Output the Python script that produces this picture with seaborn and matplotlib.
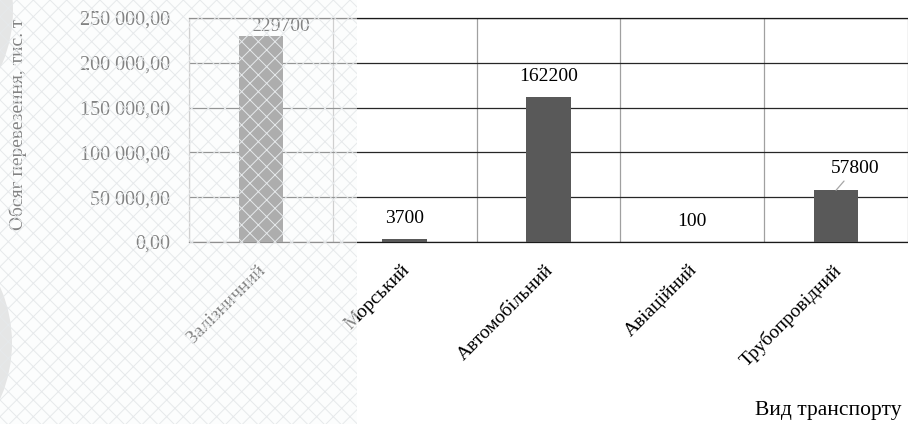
import matplotlib
matplotlib.use("Agg")
import matplotlib.pyplot as plt
import matplotlib.patches as mpatches
import matplotlib.transforms as mtransforms
import seaborn as sns
import pandas as pd

# Freight volume by mode of transport, thousand tonnes
transport_types = ["Залізничний", "Морський", "Автомобільний", "Авіаційний", "Трубопровідний"]
volumes = [229700, 3700, 162200, 100, 57800]
y_ticks = [0, 50000, 100000, 150000, 200000, 250000]
y_tick_labels = ["0,00", "50 000,00", "100 000,00", "150 000,00", "200 000,00", "250 000,00"]
y_title = "Обсяг перевезення, тис. т"
x_title = "Вид транспорту"

sns.set_theme(style="white")
plt.rcParams["font.family"] = ["Liberation Serif", "DejaVu Serif"]
plt.rcParams["hatch.linewidth"] = 0.7

df = pd.DataFrame({"mode": transport_types, "volume": volumes})

W, H, DPI = 908, 424, 100
fig = plt.figure(figsize=(W / DPI, H / DPI), dpi=DPI)
ax = fig.add_axes([189 / W, 1 - 242 / H, 719 / W, 224 / H])

sns.barplot(data=df, x="mode", y="volume", color="#595959", saturation=1,
            width=0.31, linewidth=0, edgecolor="none", ax=ax, zorder=3)

ax.set_xlim(-0.5, 4.5)
ax.set_ylim(0, 250000)

# horizontal value grid (dark) and vertical category separators (grey)
ax.set_yticks(y_ticks, y_tick_labels)
ax.yaxis.grid(True, color="#262626", lw=0.9, zorder=1)
ax.set_xticks([i - 0.5 for i in range(len(transport_types) + 1)], minor=True)
ax.xaxis.grid(True, which="minor", color="#a0a0a0", lw=0.9, zorder=1)
ax.xaxis.grid(False, which="major")
ax.set_axisbelow(True)
ax.tick_params(which="both", length=0)
ax.tick_params(axis="y", pad=13.5, labelsize=14.5, labelcolor="black")
ax.tick_params(axis="x", pad=14, labelsize=14, labelcolor="black")

for side in ("top", "bottom"):
    ax.spines[side].set_color("#1a1a1a")
    ax.spines[side].set_linewidth(0.9)
ax.spines["left"].set_color("#a0a0a0")
ax.spines["left"].set_linewidth(0.9)
ax.spines["right"].set_visible(False)

for lab in ax.get_xticklabels():
    lab.set_rotation(45)
    lab.set_ha("right")
    lab.set_va("top")
    lab.set_rotation_mode("anchor")
    lab.set_transform(lab.get_transform() +
                      mtransforms.ScaledTranslation(-4 / DPI, 0, fig.dpi_scale_trans))

ax.set_ylabel(y_title, fontsize=14, color="black")
ax.yaxis.label.set_va("center")
ax.yaxis.set_label_coords(-0.238, 0.527)
ax.set_xlabel(x_title, fontsize=15.5, color="black")
ax.xaxis.label.set_va("center")
ax.xaxis.set_label_coords(0.889, -0.75)

# value labels above the bars (offsets in pixels)
label_offsets = [(20, 10), (0, 20), (0, 20), (0, 20), (19, 22)]
for i, (val, (dx, dy)) in enumerate(zip(volumes, label_offsets)):
    arrow = None
    if dx and dy > 15:
        arrow = dict(arrowstyle="-", color="#a6a6a6", lw=0.9, shrinkA=1, shrinkB=0)
    ax.annotate(f"{val}", xy=(i, val), xytext=(dx, dy), textcoords="offset pixels",
                ha="center", va="center", fontsize=14, color="black",
                arrowprops=arrow, zorder=4)

# faded, patterned strip at the left edge
strip_w = 357 / W
for cy, r in ((H - 10, 140), (H - 343, 139)):
    fig.add_artist(mpatches.Circle(((-127) / DPI, cy / DPI), r / DPI,
                                   transform=fig.dpi_scale_trans,
                                   facecolor="#cfcfcf", edgecolor="none", zorder=8))
fig.add_artist(mpatches.Rectangle((0, 0), strip_w, 1, transform=fig.transFigure,
                                  facecolor="#fbfcfc", alpha=0.52, edgecolor="none",
                                  zorder=9))
fig.add_artist(mpatches.Rectangle((0, 0), strip_w, 1, transform=fig.transFigure,
                                  facecolor="none", hatch="xx", edgecolor="#e6e9eb",
                                  linewidth=0, zorder=10))

fig.savefig("out.png", dpi=DPI)
